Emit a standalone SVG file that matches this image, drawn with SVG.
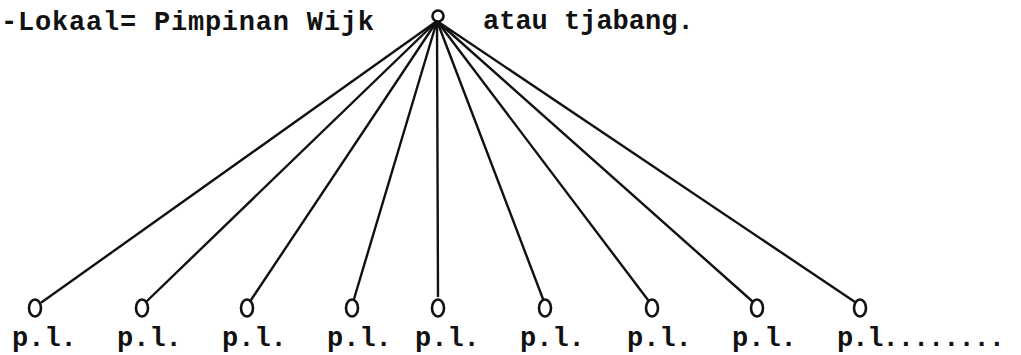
<svg xmlns="http://www.w3.org/2000/svg" width="1021" height="355" viewBox="0 0 1021 355">
<style>
.t{font-family:"Liberation Mono","DejaVu Sans Mono",monospace;font-size:27px;font-weight:bold;fill:#111}
.n{fill:#fff;stroke:#111;stroke-width:2.6}
.c line{stroke:#111;stroke-width:2.4;stroke-linecap:round}
</style>
<rect width="1021" height="355" fill="#fff"/>
<text class="t" x="1" y="30" textLength="373" lengthAdjust="spacing">-Lokaal= Pimpinan Wijk</text>
<text class="t" x="483" y="29">atau tjabang.</text>
<g id="connectors" class="c">
<line x1="437" y1="21" x2="42" y2="302"/>
<line x1="437" y1="21" x2="147" y2="301"/>
<line x1="437" y1="21" x2="251" y2="300"/>
<line x1="437" y1="21" x2="354" y2="299"/>
<line x1="437" y1="21" x2="438" y2="296"/>
<line x1="437" y1="21" x2="543" y2="299"/>
<line x1="437" y1="21" x2="648" y2="300"/>
<line x1="437" y1="21" x2="752" y2="301"/>
<line x1="437" y1="21" x2="855" y2="302"/>
</g>
<g id="root"><circle class="n" cx="438" cy="16" r="5.5"/></g>
<g id="n1"><ellipse class="n" cx="35" cy="308" rx="6" ry="8.5"/><text class="t" x="12" y="346">p.l.</text></g>
<g id="n2"><ellipse class="n" cx="142" cy="308" rx="6" ry="8.5"/><text class="t" x="117" y="346">p.l.</text></g>
<g id="n3"><ellipse class="n" cx="247" cy="308" rx="6" ry="8.5"/><text class="t" x="222" y="346">p.l.</text></g>
<g id="n4"><ellipse class="n" cx="352" cy="308" rx="6" ry="8.5"/><text class="t" x="327" y="346">p.l.</text></g>
<g id="n5"><ellipse class="n" cx="438" cy="308" rx="6" ry="8.5"/><text class="t" x="415" y="346">p.l.</text></g>
<g id="n6"><ellipse class="n" cx="545" cy="308" rx="6" ry="8.5"/><text class="t" x="520" y="346">p.l.</text></g>
<g id="n7"><ellipse class="n" cx="652" cy="308" rx="6" ry="8.5"/><text class="t" x="627" y="346">p.l.</text></g>
<g id="n8"><ellipse class="n" cx="757" cy="308" rx="6" ry="8.5"/><text class="t" x="732" y="346">p.l.</text></g>
<g id="n9"><ellipse class="n" cx="860" cy="308" rx="6" ry="8.5"/><text class="t" x="837" y="346" textLength="168" lengthAdjust="spacing">p.l........</text></g>
</svg>
